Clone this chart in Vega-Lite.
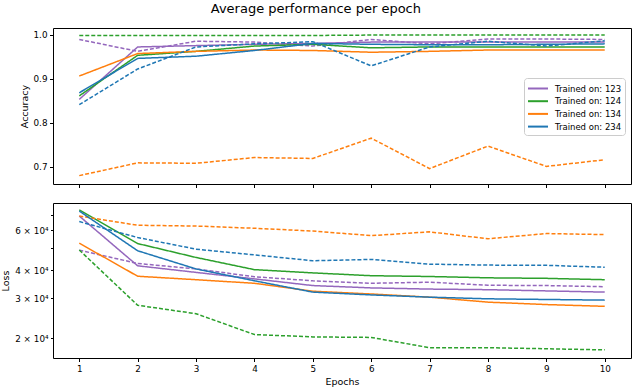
{
  "$schema": "https://vega.github.io/schema/vega-lite/v6.json",
  "padding": {"left": 0, "top": 2, "right": 1, "bottom": 1},
  "title": {"text": "Average performance per epoch", "anchor": "middle", "frame": "bounds", "fontSize": 13, "fontWeight": "normal", "font": "DejaVu Sans", "color": "black", "offset": 12},
  "config": {
    "font": "DejaVu Sans",
    "view": {"stroke": "black", "strokeWidth": 1},
    "axis": {"domain": false, "grid": false, "tickColor": "black", "tickSize": 3.5, "labelColor": "black", "labelFontSize": 8.8, "labelPadding": 2.5, "titleFontSize": 9.5, "titleFontWeight": "normal", "titleColor": "black", "labelFont": "DejaVu Sans", "titleFont": "DejaVu Sans"}
  },
  "data": {"values": [
    {"model": "Trained on: 123", "kind": "a", "epoch": 1, "acc": 0.853, "loss": 69300},
    {"model": "Trained on: 123", "kind": "a", "epoch": 2, "acc": 0.972, "loss": 41800},
    {"model": "Trained on: 123", "kind": "a", "epoch": 3, "acc": 0.975, "loss": 39100},
    {"model": "Trained on: 123", "kind": "a", "epoch": 4, "acc": 0.978, "loss": 36600},
    {"model": "Trained on: 123", "kind": "a", "epoch": 5, "acc": 0.980, "loss": 34200},
    {"model": "Trained on: 123", "kind": "a", "epoch": 6, "acc": 0.983, "loss": 33400},
    {"model": "Trained on: 123", "kind": "a", "epoch": 7, "acc": 0.983, "loss": 33000},
    {"model": "Trained on: 123", "kind": "a", "epoch": 8, "acc": 0.983, "loss": 32800},
    {"model": "Trained on: 123", "kind": "a", "epoch": 9, "acc": 0.983, "loss": 32400},
    {"model": "Trained on: 123", "kind": "a", "epoch": 10, "acc": 0.983, "loss": 32000},
    {"model": "Trained on: 123", "kind": "b", "epoch": 1, "acc": 0.989, "loss": 49000},
    {"model": "Trained on: 123", "kind": "b", "epoch": 2, "acc": 0.962, "loss": 42800},
    {"model": "Trained on: 123", "kind": "b", "epoch": 3, "acc": 0.985, "loss": 40500},
    {"model": "Trained on: 123", "kind": "b", "epoch": 4, "acc": 0.983, "loss": 37400},
    {"model": "Trained on: 123", "kind": "b", "epoch": 5, "acc": 0.974, "loss": 35900},
    {"model": "Trained on: 123", "kind": "b", "epoch": 6, "acc": 0.989, "loss": 35000},
    {"model": "Trained on: 123", "kind": "b", "epoch": 7, "acc": 0.979, "loss": 35400},
    {"model": "Trained on: 123", "kind": "b", "epoch": 8, "acc": 0.990, "loss": 34300},
    {"model": "Trained on: 123", "kind": "b", "epoch": 9, "acc": 0.990, "loss": 34200},
    {"model": "Trained on: 123", "kind": "b", "epoch": 10, "acc": 0.989, "loss": 33800},
    {"model": "Trained on: 124", "kind": "a", "epoch": 1, "acc": 0.861, "loss": 73700},
    {"model": "Trained on: 124", "kind": "a", "epoch": 2, "acc": 0.953, "loss": 52400},
    {"model": "Trained on: 124", "kind": "a", "epoch": 3, "acc": 0.962, "loss": 45500},
    {"model": "Trained on: 124", "kind": "a", "epoch": 4, "acc": 0.974, "loss": 40200},
    {"model": "Trained on: 124", "kind": "a", "epoch": 5, "acc": 0.978, "loss": 38900},
    {"model": "Trained on: 124", "kind": "a", "epoch": 6, "acc": 0.970, "loss": 37800},
    {"model": "Trained on: 124", "kind": "a", "epoch": 7, "acc": 0.972, "loss": 37500},
    {"model": "Trained on: 124", "kind": "a", "epoch": 8, "acc": 0.972, "loss": 37000},
    {"model": "Trained on: 124", "kind": "a", "epoch": 9, "acc": 0.972, "loss": 36800},
    {"model": "Trained on: 124", "kind": "a", "epoch": 10, "acc": 0.972, "loss": 36300},
    {"model": "Trained on: 124", "kind": "b", "epoch": 1, "acc": 0.998, "loss": 49100},
    {"model": "Trained on: 124", "kind": "b", "epoch": 2, "acc": 0.998, "loss": 28000},
    {"model": "Trained on: 124", "kind": "b", "epoch": 3, "acc": 0.998, "loss": 25700},
    {"model": "Trained on: 124", "kind": "b", "epoch": 4, "acc": 0.998, "loss": 20800},
    {"model": "Trained on: 124", "kind": "b", "epoch": 5, "acc": 0.998, "loss": 20300},
    {"model": "Trained on: 124", "kind": "b", "epoch": 6, "acc": 0.999, "loss": 20200},
    {"model": "Trained on: 124", "kind": "b", "epoch": 7, "acc": 0.999, "loss": 18200},
    {"model": "Trained on: 124", "kind": "b", "epoch": 8, "acc": 0.999, "loss": 18200},
    {"model": "Trained on: 124", "kind": "b", "epoch": 9, "acc": 0.999, "loss": 18000},
    {"model": "Trained on: 124", "kind": "b", "epoch": 10, "acc": 0.999, "loss": 17800},
    {"model": "Trained on: 134", "kind": "a", "epoch": 1, "acc": 0.906, "loss": 52600},
    {"model": "Trained on: 134", "kind": "a", "epoch": 2, "acc": 0.957, "loss": 37600},
    {"model": "Trained on: 134", "kind": "a", "epoch": 3, "acc": 0.962, "loss": 36300},
    {"model": "Trained on: 134", "kind": "a", "epoch": 4, "acc": 0.965, "loss": 35000},
    {"model": "Trained on: 134", "kind": "a", "epoch": 5, "acc": 0.964, "loss": 32300},
    {"model": "Trained on: 134", "kind": "a", "epoch": 6, "acc": 0.960, "loss": 31400},
    {"model": "Trained on: 134", "kind": "a", "epoch": 7, "acc": 0.962, "loss": 30400},
    {"model": "Trained on: 134", "kind": "a", "epoch": 8, "acc": 0.965, "loss": 28900},
    {"model": "Trained on: 134", "kind": "a", "epoch": 9, "acc": 0.965, "loss": 28200},
    {"model": "Trained on: 134", "kind": "a", "epoch": 10, "acc": 0.965, "loss": 27700},
    {"model": "Trained on: 134", "kind": "b", "epoch": 1, "acc": 0.680, "loss": 69300},
    {"model": "Trained on: 134", "kind": "b", "epoch": 2, "acc": 0.709, "loss": 63100},
    {"model": "Trained on: 134", "kind": "b", "epoch": 3, "acc": 0.708, "loss": 62600},
    {"model": "Trained on: 134", "kind": "b", "epoch": 4, "acc": 0.721, "loss": 61200},
    {"model": "Trained on: 134", "kind": "b", "epoch": 5, "acc": 0.719, "loss": 59500},
    {"model": "Trained on: 134", "kind": "b", "epoch": 6, "acc": 0.765, "loss": 56800},
    {"model": "Trained on: 134", "kind": "b", "epoch": 7, "acc": 0.696, "loss": 59000},
    {"model": "Trained on: 134", "kind": "b", "epoch": 8, "acc": 0.747, "loss": 55000},
    {"model": "Trained on: 134", "kind": "b", "epoch": 9, "acc": 0.701, "loss": 58000},
    {"model": "Trained on: 134", "kind": "b", "epoch": 10, "acc": 0.716, "loss": 57400},
    {"model": "Trained on: 234", "kind": "a", "epoch": 1, "acc": 0.868, "loss": 72900},
    {"model": "Trained on: 234", "kind": "a", "epoch": 2, "acc": 0.946, "loss": 48700},
    {"model": "Trained on: 234", "kind": "a", "epoch": 3, "acc": 0.951, "loss": 40500},
    {"model": "Trained on: 234", "kind": "a", "epoch": 4, "acc": 0.964, "loss": 35900},
    {"model": "Trained on: 234", "kind": "a", "epoch": 5, "acc": 0.980, "loss": 32000},
    {"model": "Trained on: 234", "kind": "a", "epoch": 6, "acc": 0.978, "loss": 31100},
    {"model": "Trained on: 234", "kind": "a", "epoch": 7, "acc": 0.977, "loss": 30400},
    {"model": "Trained on: 234", "kind": "a", "epoch": 8, "acc": 0.977, "loss": 29900},
    {"model": "Trained on: 234", "kind": "a", "epoch": 9, "acc": 0.978, "loss": 29700},
    {"model": "Trained on: 234", "kind": "a", "epoch": 10, "acc": 0.979, "loss": 29500},
    {"model": "Trained on: 234", "kind": "b", "epoch": 1, "acc": 0.841, "loss": 65500},
    {"model": "Trained on: 234", "kind": "b", "epoch": 2, "acc": 0.922, "loss": 55700},
    {"model": "Trained on: 234", "kind": "b", "epoch": 3, "acc": 0.972, "loss": 49500},
    {"model": "Trained on: 234", "kind": "b", "epoch": 4, "acc": 0.979, "loss": 46700},
    {"model": "Trained on: 234", "kind": "b", "epoch": 5, "acc": 0.984, "loss": 44000},
    {"model": "Trained on: 234", "kind": "b", "epoch": 6, "acc": 0.929, "loss": 44600},
    {"model": "Trained on: 234", "kind": "b", "epoch": 7, "acc": 0.972, "loss": 42500},
    {"model": "Trained on: 234", "kind": "b", "epoch": 8, "acc": 0.985, "loss": 42100},
    {"model": "Trained on: 234", "kind": "b", "epoch": 9, "acc": 0.974, "loss": 42000},
    {"model": "Trained on: 234", "kind": "b", "epoch": 10, "acc": 0.986, "loss": 41200}
  ]},
  "spacing": 13,
  "vconcat": [
    {
      "width": 578,
      "height": 156,
      "mark": {"type": "line", "strokeWidth": 1.5},
      "encoding": {
        "x": {"field": "epoch", "type": "quantitative", "scale": {"domain": [0.55, 10.45], "nice": false, "zero": false}, "axis": {"values": [1,2,3,4,5,6,7,8,9,10], "labels": false, "title": null}},
        "y": {"field": "acc", "type": "quantitative", "scale": {"domain": [0.661, 1.015], "nice": false, "zero": false}, "axis": {"values": [0.7, 0.8, 0.9, 1.0], "format": ".1f", "title": "Accuracy", "titlePadding": 4}},
        "color": {"field": "model", "type": "nominal", "scale": {"domain": ["Trained on: 123", "Trained on: 124", "Trained on: 134", "Trained on: 234"], "range": ["#9467bd", "#2ca02c", "#ff7f0e", "#1f77b4"]}, "legend": {"title": null, "orient": "none", "legendX": 471, "legendY": 50, "symbolType": "M-1,0H2.08", "symbolSize": 169, "symbolStrokeWidth": 2, "labelFontSize": 8.5, "labelColor": "black", "labelOffset": 13, "rowPadding": 0.7, "padding": 3, "fillColor": "rgba(255,255,255,0.8)", "strokeColor": "#cccccc", "cornerRadius": 3}},
        "strokeDash": {"field": "kind", "type": "nominal", "scale": {"domain": ["a", "b"], "range": [[1, 0], [4, 2]]}, "legend": null}
      }
    },
    {
      "width": 578,
      "height": 155,
      "mark": {"type": "line", "strokeWidth": 1.5},
      "encoding": {
        "x": {"field": "epoch", "type": "quantitative", "scale": {"domain": [0.55, 10.45], "nice": false, "zero": false}, "axis": {"values": [1,2,3,4,5,6,7,8,9,10], "title": "Epochs", "titlePadding": 4}},
        "y": {"field": "loss", "type": "quantitative", "scale": {"type": "log", "domain": [16390, 79100], "nice": false}, "axis": {"values": [20000, 30000, 40000, 50000, 60000, 70000], "labelExpr": "indexof([20000,30000,40000,60000], datum.value) >= 0 ? (datum.value/10000) + ' × 10⁴' : ''", "title": "Loss", "titlePadding": 4, "tickSize": 2.5}},
        "color": {"field": "model", "type": "nominal", "legend": null},
        "strokeDash": {"field": "kind", "type": "nominal", "scale": {"domain": ["a", "b"], "range": [[1, 0], [4, 2]]}, "legend": null}
      }
    }
  ]
}
